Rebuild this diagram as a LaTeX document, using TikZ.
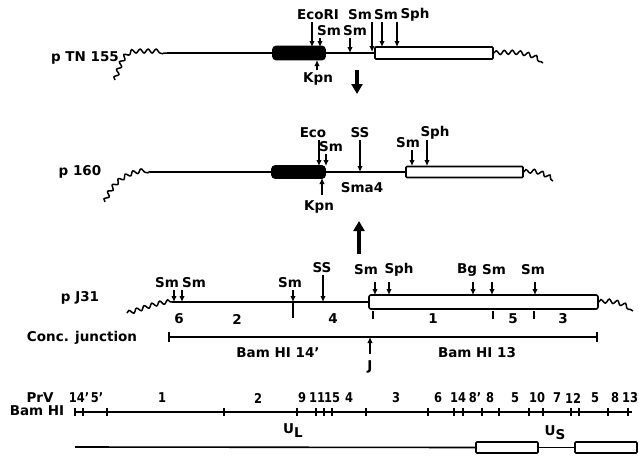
\documentclass[tikz,border=0pt]{standalone}
\usepackage{fontspec}
\setmainfont{DejaVu Sans}
\usetikzlibrary{arrows.meta,decorations.pathmorphing}

\begin{document}
\begin{tikzpicture}[
  x=1pt, y=-1pt,
  font=\fontsize{13.5}{15}\selectfont\bfseries,
  inner sep=1pt,
  dna/.style={line width=1.6pt},
  wavy/.style={line width=1.5pt, decorate,
               decoration={snake, segment length=8pt, amplitude=2pt}},
  insert/.style={draw, line width=1.6pt, fill=white, inner sep=0pt,
                 minimum height=12pt, rounded corners=1pt},
  kpnbox/.style={insert, fill=black, rounded corners=3pt},
  site/.style={-{Latex[length=6pt,width=5.5pt]}, line width=1.2pt, shorten <=1pt},
  bigar/.style={-{Triangle[length=10pt,width=11pt]}, line width=3.5pt},
  tick/.style={line width=1.4pt}
]
\useasboundingbox (0,0) rectangle (639,455);

% pTN155
\node (ptn) at (85,58) {p TN 155};
\node[kpnbox, minimum width=52pt, minimum height=13pt] (blk1) at (299,53) {};
\node[insert, minimum width=118pt, minimum height=12pt] (wb1) at (434,53) {};
\coordinate (ptnl) at (167,53);
\coordinate (ptnr) at (543,63);
\draw[wavy] (115,80) .. controls (121,62) and (124,53) .. (136,53) -- (ptnl);
\draw[dna] (ptnl) -- (blk1.west);
\draw[dna] (blk1.east) -- (wb1.west);
\draw[wavy] (wb1.east) .. controls (520,51) and (530,54) .. (ptnr);
\node (eco1) at (318,15) {EcoRI};
\node (smA1) at (329,31) {Sm};
\node (smB1) at (355,31) {Sm};
\node (smC1) at (360,15) {Sm};
\node (smD1) at (386,15) {Sm};
\node (sph1) at (415,15) {Sph};
\node (kpn1) at (318,79) {Kpn};
\coordinate (eco1p) at (312,47);
\coordinate (smA1p) at (320,47);
\coordinate (smB1p) at (350,53);
\coordinate (smC1p) at (372,52);
\coordinate (smD1p) at (382,47);
\coordinate (sph1p) at (397,47);
\coordinate (kpn1p) at (317,60);
\draw[site] (eco1p |- eco1.south) -- (eco1p);
\draw[site] (smA1p |- smA1.south) -- (smA1p);
\draw[site] (smB1p |- smB1.south) -- (smB1p);
\draw[site] (smC1p |- smC1.south) -- (smC1p);
\draw[site] (smD1p |- smD1.south) -- (smD1p);
\draw[site] (sph1p |- smD1.south) -- (sph1p);
\draw[site] (kpn1p |- kpn1.north) -- (kpn1p);
\coordinate (dn1) at (357,70);
\coordinate (dn2) at (357,94);
\draw[bigar] (dn1) -- (dn2);

% p160
\node (p160) at (80,172) {p 160};
\node[kpnbox, minimum width=53pt, minimum height=12pt] (blk2) at (298.5,172) {};
\node[insert, minimum width=117pt, minimum height=11pt] (wb2) at (464.5,172) {};
\coordinate (p160l) at (150,172);
\coordinate (p160r) at (553,181);
\draw[wavy] (105,202) .. controls (112,183) and (128,172) .. (p160l);
\draw[dna] (p160l) -- (blk2.west);
\draw[dna] (blk2.east) -- (wb2.west);
\draw[wavy] (wb2.east) .. controls (535,170) and (543,174) .. (p160r);
\node (eco2) at (313,133) {Eco};
\node (smA2) at (331,147) {Sm};
\node (ss2) at (360,133) {SS};
\node (smB2) at (408,143) {Sm};
\node (sph2) at (435,133) {Sph};
\node (kpn2) at (319,207) {Kpn};
\node (sma4) at (362,188) {Sma4};
\coordinate (eco2p) at (319,166);
\coordinate (smA2p) at (326,166);
\coordinate (ss2p) at (360,172);
\coordinate (smB2p) at (412,166);
\coordinate (sph2p) at (427,166);
\coordinate (kpn2p) at (322,178);
\draw[site] (eco2p |- eco2.south) -- (eco2p);
\draw[site] (smA2p |- smA2.south) -- (smA2p);
\draw[site] (ss2p |- ss2.south) -- (ss2p);
\draw[site] (smB2p |- smB2.south) -- (smB2p);
\draw[site] (sph2p |- ss2.south) -- (sph2p);
\draw[site, shorten <=4pt] (kpn2p |- kpn2.north) -- (kpn2p);
\coordinate (up1) at (359,254);
\coordinate (up2) at (359,221);
\draw[bigar] (up1) -- (up2);

% pJ31
\node (pj31) at (80,298) {p J31};
\node[insert, minimum width=229pt, minimum height=14pt, rounded corners=2pt] (wb3) at (483.5,302) {};
\coordinate (pj31l) at (172,302);
\coordinate (pj31r) at (633,311);
\draw[wavy] (127,313) .. controls (142,309) and (156,302) .. (pj31l);
\draw[dna] (pj31l) -- (wb3.west);
\draw[wavy] (wb3.east) .. controls (610,300) and (620,303) .. (pj31r);
\node (smA3) at (167,283) {Sm};
\node (smB3) at (194,283) {Sm};
\node (smC3) at (290,283) {Sm};
\node (ss3) at (322,268) {SS};
\node (smD3) at (366,270) {Sm};
\node (sph3) at (399,270) {Sph};
\node (bg3) at (467,270) {Bg};
\node (smE3) at (494,270) {Sm};
\node (smF3) at (533,270) {Sm};
\coordinate (smA3p) at (174,302);
\coordinate (smB3p) at (182,302);
\coordinate (smC3p) at (293,302);
\coordinate (ss3p) at (323,302);
\coordinate (smD3p) at (375,295);
\coordinate (sph3p) at (389,295);
\coordinate (bg3p) at (473,295);
\coordinate (smE3p) at (492,295);
\coordinate (smF3p) at (535,295);
\draw[site] (smA3p |- smA3.south) -- (smA3p);
\draw[site] (smB3p |- smB3.south) -- (smB3p);
\draw[site] (smC3p |- smC3.south) -- (smC3p);
\draw[site] (ss3p |- ss3.south) -- (ss3p);
\draw[site, shorten <=6pt] (smD3p |- smD3.south) -- (smD3p);
\draw[site, shorten <=6pt] (sph3p |- smD3.south) -- (sph3p);
\draw[site, shorten <=6pt] (bg3p |- smD3.south) -- (bg3p);
\draw[site, shorten <=6pt] (smE3p |- smE3.south) -- (smE3p);
\draw[site, shorten <=6pt] (smF3p |- smF3.south) -- (smF3p);
\draw[tick] (293,302) -- (293,318);
\foreach \x in {373,493,534}
  \draw[tick] (\x,311) -- (\x,319);
\foreach \x/\t in {179/6,237/2,333/4,433/1,513/5,563/3}
  \node (fr\x) at (\x,319) {\t};

% concatemer junction
\node (conc) at (82,338) {Conc. junction};
\coordinate (cj1) at (168,337);
\coordinate (cj2) at (598,337);
\draw[dna, {Bar[width=10pt]}-{Bar[width=10pt]}] (cj1) -- (cj2);
\node (b14) at (278,353) {Bam HI 14'};
\node (b13) at (477,353) {Bam HI 13};
\node (j) at (370,367) {J};
\coordinate (jp) at (370,337);
\draw[site, shorten <=6pt] (j.north) -- (jp);

% PrV BamHI map
\node (prv) at (40,398) {PrV};
\node (bam) at (37,411) {Bam HI};
\coordinate (mapl) at (75,412);
\coordinate (mapr) at (632,412);
\draw[dna] (mapl) -- (mapr);
\foreach \x in {75,83,107,224,297,316,324,332,366,428,454,463,482,499,529,543,571,579,608,628}
  \draw[tick] (\x,408) -- (\x,416);
\foreach \x/\t in {79/14',97/5',162/1,258/2,302/9,317/11,332/15,349/4,396/3,438/6,458/14,475/8',490/8,515/5,537/10,557/7,573/12,595/5,615/8,630/13}
  \node (bh\x) at (\x,398) {\scalebox{0.85}[1]{\t}};

% genome
\node[insert, minimum width=62pt, minimum height=11pt] (trs1) at (507,447.5) {};
\node[insert, minimum width=62pt, minimum height=11pt] (trs2) at (606,447.5) {};
\coordinate (ul0) at (75,447);
\draw[dna] (ul0) -- (trs1.west);
\draw[dna] (trs1.east) -- (trs2.west);
\node (ul) at (293,431) {U\raisebox{-4pt}{L}};
\node (us) at (555,433) {U\raisebox{-4pt}{S}};
\end{tikzpicture}
\end{document}
